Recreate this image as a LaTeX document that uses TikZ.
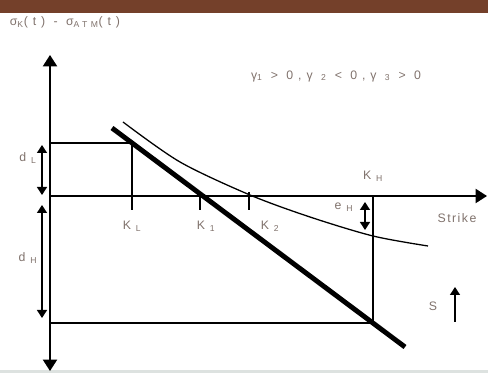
\documentclass[tikz,border=0pt]{standalone}
\usepackage{fontspec}
\setmainfont[LetterSpace=12]{Liberation Sans}
\newfontfamily\widefont[LetterSpace=40]{Liberation Sans}
\usetikzlibrary{arrows.meta}
\definecolor{barbrown}{RGB}{116,64,42}
\definecolor{labelgray}{RGB}{128,114,108}
\definecolor{rulegray}{RGB}{221,226,224}
\newcommand\sub[1]{\textsubscript{#1}}

\begin{document}
\begin{tikzpicture}[x=0.3mm, y=-0.3mm,
  lbl/.style={text=labelgray, font=\fontsize{10.5}{12}\selectfont, inner sep=1pt},
  wide/.style={lbl, font=\fontsize{10.5}{12}\selectfont\widefont},
  axis/.style={line width=1.7pt},
  guide/.style={line width=1.1pt},
  big/.tip={Triangle[length=3.4mm,width=4.2mm]},
  small/.tip={Triangle[length=2.4mm,width=3mm]}]
  \useasboundingbox (0,0) rectangle (488,373);
  \fill[barbrown] (0,0) rectangle (488,13);
  \fill[rulegray] (0,370) rectangle (488,373);

  % axes
  \coordinate (ytop) at (50,55);
  \coordinate (ybot) at (50,371);
  \coordinate (O) at (50,196);
  \coordinate (xend) at (487,196);
  \draw[axis, big-big] (ybot) -- (ytop);
  \draw[axis, -big] (O) -- (xend);

  % strikes
  \coordinate (KLtop) at (132,143);
  \coordinate (KLbase) at (132,210);
  \coordinate (Kone) at (200,196);
  \coordinate (Konebase) at (200,210);
  \coordinate (Ktwo) at (249,192);
  \coordinate (Ktwobase) at (249,210);
  \coordinate (KHtop) at (373,196);
  \coordinate (KHbase) at (373,323);
  \coordinate (dLtop) at (50,143);
  \coordinate (dHbot) at (50,323);
  \draw[guide] (dLtop) -- (KLtop) -- (KLbase);
  \draw[guide] (Kone) -- (Konebase);
  \draw[guide] (Ktwo) -- (Ktwobase);
  \draw[guide] (KHtop) -- (KHbase) -- (dHbot);

  % skew line and smile
  \coordinate (skewA) at (112,128);
  \coordinate (skewB) at (405,347);
  \draw[line width=4.2pt] (skewA) -- (skewB);
  \draw[guide] plot[smooth] coordinates {(123,122) (180,162) (250,195) (310,217) (373,236) (428,246)};

  % spreads
  \coordinate (dLa) at (42,145);
  \coordinate (dLb) at (42,195);
  \coordinate (dHa) at (42,205);
  \coordinate (dHb) at (42,318);
  \coordinate (eHa) at (365,202);
  \coordinate (eHb) at (365,230);
  \coordinate (Sa) at (455,322);
  \coordinate (Sb) at (455,287);
  \draw[guide, small-small] (dLa) -- (dLb);
  \draw[guide, small-small] (dHa) -- (dHb);
  \draw[guide, small-small] (eHa) -- (eHb);
  \draw[guide, -small] (Sa) -- (Sb);

  % labels
  \node[wide] (sig) at (65,22) {σ\sub{K}(t) - σ\sub{ATM}(t)};
  \node[wide] (gam) at (336,76) {γ\sub{1} > 0,γ \sub{2} < 0,γ \sub{3} > 0};
  \node[lbl] (dL) at (28,158) {d \sub{L}};
  \node[lbl] (dH) at (28,258) {d \sub{H}};
  \node[lbl] (KL) at (132,226) {K \sub{L}};
  \node[lbl] (K1) at (206,226) {K \sub{1}};
  \node[lbl] (K2) at (270,226) {K \sub{2}};
  \node[lbl] (KH) at (373,176) {K \sub{H}};
  \node[lbl] (eH) at (344,207) {e \sub{H}};
  \node[lbl] (strike) at (457,218) {Strike};
  \node[lbl] (S) at (433,306) {S};
\end{tikzpicture}
\end{document}
